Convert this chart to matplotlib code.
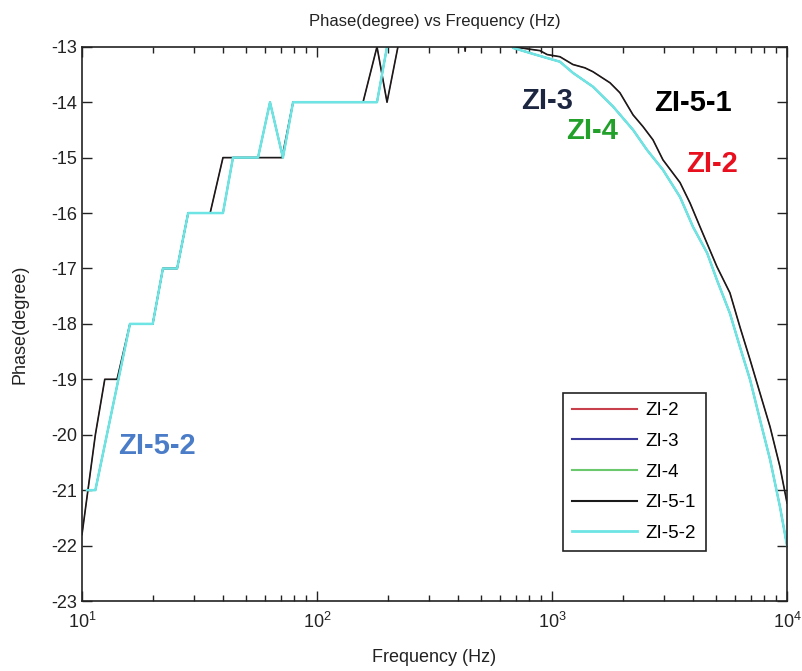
import matplotlib
matplotlib.use("Agg")
import matplotlib.pyplot as plt
from matplotlib.ticker import LogLocator, NullFormatter

plt.rcParams['font.family'] = ['Liberation Sans', 'DejaVu Sans']
plt.rcParams['mathtext.default'] = 'regular'

# ---- data ----
freq_zi51 = [10.0, 10.6, 11.4, 12.5, 14.1, 16.0, 20.0, 22.1, 25.4, 28.3, 35.1, 39.8,
             71.0, 79.1, 157, 180, 198.6, 221, 240, 410, 427, 445, 600, 682, 889,
             953, 1081, 1227, 1380, 1493, 1765, 1945, 2213, 2438, 2690, 2965, 3505, 3867,
             4265, 5035, 5715, 6310, 6966, 7674, 8472, 9333, 10000]
phase_zi51 = [-21.8, -21.0, -20.0, -19.0, -19.0, -18.0, -18.0, -17.0, -17.0, -16.0, -16.0, -15.0,
              -15.0, -14.0, -14.0, -13.0, -14.0, -13.0, -12.0, -12.0, -13.08, -12.0, -12.0, -13.0, -13.07,
              -13.14, -13.18, -13.32, -13.38, -13.45, -13.65, -13.83, -14.23, -14.44, -14.68, -15.04, -15.45, -15.82,
              -16.25, -16.97, -17.44, -18.06, -18.65, -19.25, -19.86, -20.58, -21.23]

freq_zi52 = [10.5, 11.4, 16.0, 20.0, 22.1, 25.4, 28.3, 39.8, 43.9, 56.1, 63.1, 71.6,
             79.1, 180, 198.6, 220, 600, 682, 847, 1081, 1227, 1493, 1820, 2213, 2535,
             2965, 3505, 3981, 4571, 5035, 5715, 6310, 6966, 7674, 8472, 9333, 10000]
phase_zi52 = [-21.0, -21.0, -18.0, -18.0, -17.0, -17.0, -16.0, -16.0, -15.0, -15.0, -14.0, -15.0,
              -14.0, -14.0, -13.0, -12.0, -12.0, -13.02, -13.14, -13.27, -13.47, -13.72, -14.08, -14.50, -14.86,
              -15.22, -15.71, -16.25, -16.72, -17.21, -17.81, -18.42, -19.01, -19.73, -20.45, -21.30, -22.0]

# ZI-2 overlaps ZI-5-1; ZI-3 and ZI-4 overlap ZI-5-2
freq_zi2, phase_zi2 = freq_zi51, phase_zi51
freq_zi3, phase_zi3 = freq_zi52, phase_zi52
freq_zi4, phase_zi4 = freq_zi52, phase_zi52

series_names = ['ZI-2', 'ZI-3', 'ZI-4', 'ZI-5-1', 'ZI-5-2']
series_colors = ['#c8404c', '#3a3a9a', '#6cc86c', '#1a1a1a', '#6ee4e4']
series_freq = [freq_zi2, freq_zi3, freq_zi4, freq_zi51, freq_zi52]
series_phase = [phase_zi2, phase_zi3, phase_zi4, phase_zi51, phase_zi52]
series_widths = [0.7, 1.2, 1.2, 1.2, 1.8]

y_ticks = [-13, -14, -15, -16, -17, -18, -19, -20, -21, -22, -23]

annotations = [
    ('ZI-3', 953, -13.97, '#1c2640'),
    ('ZI-4', 1479, -14.52, '#22a02a'),
    ('ZI-5-1', 3981, -14.01, '#000000'),
    ('ZI-2', 4797, -15.11, '#e8101e'),
    ('ZI-5-2', 20.8, -20.2, '#4a7cc8'),
]

fig = plt.figure(figsize=(8.03, 6.71), dpi=100)
ax = fig.add_axes([0.1021, 0.1043, 0.878, 0.826])

for name, c, fx, py, lw in zip(series_names, series_colors, series_freq, series_phase, series_widths):
    ax.plot(fx, py, color=c, lw=lw, label=name)

ax.set_xscale('log')
ax.set_xlim(10, 10000)
ax.set_ylim(-23, -13)
ax.set_yticks(y_ticks)
ax.set_yticklabels([str(t) for t in y_ticks])
ax.xaxis.set_major_locator(LogLocator(base=10, numticks=10))
ax.xaxis.set_minor_locator(LogLocator(base=10, subs=range(2, 10), numticks=20))
ax.xaxis.set_minor_formatter(NullFormatter())

ax.tick_params(axis='both', which='both', direction='in', top=True, right=True,
               labelsize=13, colors='#222222')
ax.tick_params(axis='both', which='major', length=7, width=1)
ax.tick_params(axis='x', which='minor', length=4, width=1)
ax.tick_params(axis='x', which='major', pad=8)
for sp in ax.spines.values():
    sp.set_linewidth(1.2)
    sp.set_color('#222222')

ax.set_title('Phase(degree) vs Frequency (Hz)', fontsize=12, color='#222222', pad=15)
ax.set_xlabel('Frequency (Hz)', fontsize=13, color='#222222', labelpad=12)
ax.set_ylabel('Phase(degree)', fontsize=13, color='#222222', labelpad=16)

for txt, x, y, c in annotations:
    ax.text(x, y, txt, color=c, fontsize=21, fontweight='bold', ha='center', va='center')

handles, labels = ax.get_legend_handles_labels()
leg = ax.legend(handles, labels, loc='upper left', bbox_to_anchor=(0.682, 0.3755), borderaxespad=0,
                fontsize=13.5, handlelength=3.47, fancybox=False, framealpha=1,
                edgecolor='#222222', borderpad=0.5, labelspacing=0.72, handletextpad=0.45)
for lh, w in zip(leg.get_lines(), [1.5, 1.5, 1.5, 1.5, 2.0]):
    lh.set_linewidth(w)
leg.get_frame().set_linewidth(1.2)

fig.savefig('out.png', dpi=100)
